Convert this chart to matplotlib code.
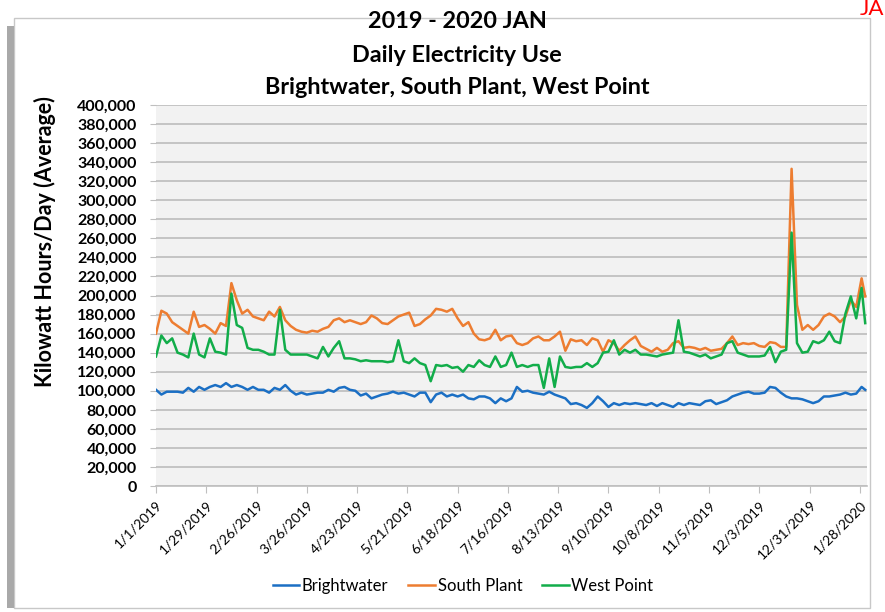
import matplotlib
matplotlib.use("Agg")
import matplotlib.pyplot as plt
from matplotlib.patches import Rectangle
import numpy as np
import pandas as pd

# sample days (offset from 1/1/2019), roughly every 3 days
sample_days = list(range(0, 394, 3)) + [395]

# kWh/day, in thousands
brightwater = [
    101, 96, 99, 99, 99, 98, 103, 99, 104, 101,
    104, 106, 104, 108, 104, 106, 104, 101, 104, 101,
    101, 98, 103, 101, 106, 100, 96, 98, 96, 97,
    98, 98, 101, 99, 103, 104, 101, 100, 95, 97,
    92, 94, 96, 97, 99, 97, 98, 96, 94, 98,
    98, 88, 96, 98, 94, 96, 94, 96, 92, 91,
    94, 94, 92, 87, 92, 89, 92, 104, 99, 100,
    98, 97, 96, 99, 96, 94, 92, 86, 87, 85,
    82, 87, 94, 89, 83, 87, 85, 87, 86, 87,
    86, 85, 87, 84, 87, 85, 83, 87, 85, 87,
    86, 85, 89, 90, 86, 88, 90, 94, 96, 98,
    99, 97, 97, 98, 104, 103, 98, 94, 92, 92,
    91, 89, 87, 89, 94, 94, 95, 96, 98, 96,
    97, 104, 101]

south_plant = [
    160, 184, 181, 172, 168, 164, 160, 183, 167, 169,
    165, 160, 171, 168, 213, 195, 181, 185, 178, 176,
    174, 183, 178, 188, 174, 168, 164, 162, 161, 163,
    162, 165, 167, 174, 176, 172, 174, 172, 170, 172,
    179, 176, 171, 170, 174, 178, 180, 182, 168, 170,
    175, 179, 186, 185, 183, 186, 176, 168, 172, 160,
    154, 153, 155, 164, 153, 157, 158, 150, 148, 150,
    155, 157, 153, 153, 157, 162, 142, 154, 152, 153,
    148, 155, 153, 141, 153, 150, 142, 148, 153, 157,
    147, 144, 141, 145, 141, 143, 150, 152, 145, 146,
    145, 143, 145, 142, 143, 144, 150, 157, 148, 150,
    149, 150, 147, 146, 151, 150, 146, 146, 333, 190,
    164, 169, 164, 169, 178, 181, 178, 172, 178, 195,
    188, 218, 199]

west_point = [
    136, 158, 150, 155, 140, 138, 135, 160, 138, 135,
    155, 141, 140, 138, 202, 169, 166, 145, 143, 143,
    141, 138, 138, 185, 143, 138, 138, 138, 138, 136,
    134, 146, 136, 145, 152, 134, 134, 133, 131, 132,
    131, 131, 131, 130, 131, 153, 131, 129, 134, 129,
    127, 110, 127, 126, 127, 124, 125, 120, 127, 125,
    132, 127, 125, 136, 125, 127, 140, 125, 127, 125,
    127, 127, 103, 134, 104, 136, 125, 124, 125, 125,
    129, 125, 129, 140, 141, 153, 138, 143, 140, 143,
    138, 138, 137, 136, 138, 139, 140, 174, 141, 140,
    138, 136, 138, 134, 136, 138, 150, 152, 140, 138,
    136, 136, 136, 137, 146, 130, 141, 143, 266, 150,
    140, 141, 152, 150, 153, 162, 152, 150, 181, 199,
    176, 208, 171]

series_names = ["Brightwater", "South Plant", "West Point"]
series_colors = ["#1b6fc4", "#ed7d31", "#12ad4a"]

start = pd.Timestamp("2019-01-01")
dates = [start + pd.Timedelta(days=d) for d in sample_days]
tick_dates = [start + pd.Timedelta(days=28 * i) for i in range(15)]
tick_labels = [f"{t.month}/{t.day}/{t.year}" for t in tick_dates]

plt.rcParams['font.family'] = ['Lato', 'DejaVu Sans']

fig = plt.figure(figsize=(8.85, 6.12), dpi=100)
W, H = 885, 612

# outer chart frame with the left shadow (behind the axes)
fig.patches.append(Rectangle((14 / W, 1 - 608 / H), (870 - 14) / W, (608 - 18) / H,
                             transform=fig.transFigure, facecolor='white',
                             edgecolor='#c8c8c8', lw=1.0, zorder=-2))
fig.patches.append(Rectangle((7 / W, 1 - 608 / H), 7 / W, (608 - 26) / H,
                             transform=fig.transFigure, facecolor='#a9a9a9',
                             edgecolor='none', zorder=-2))

ax = fig.add_axes([156 / W, 1 - 486 / H, (867 - 156) / W, (486 - 105) / H])
ax.set_facecolor('#f2f2f2')

for vals, name, col in zip([brightwater, south_plant, west_point], series_names, series_colors):
    ax.plot(dates, np.array(vals) * 1000, color=col, lw=1.8, label=name, solid_joinstyle='round')

ax.set_ylim(0, 400000)
ax.set_yticks(np.arange(0, 400001, 20000))
ax.set_yticklabels([f"{v:,}" for v in range(0, 400001, 20000)], fontweight='bold', fontsize=11.5)
ax.grid(axis='y', color='#c4c4c4', lw=1.4)
ax.set_axisbelow(True)

ax.set_xlim(start, start + pd.Timedelta(days=396))
ax.set_xticks(tick_dates)
ax.set_xticklabels(tick_labels, rotation=45, ha='right', va='top', rotation_mode='anchor', fontsize=10)

for s in ['top', 'right', 'left']:
    ax.spines[s].set_visible(False)
ax.spines['bottom'].set_color('#bfbfbf')
ax.spines['bottom'].set_linewidth(1.2)
ax.tick_params(axis='y', length=4, color='#bfbfbf', pad=10)
ax.tick_params(axis='x', length=5, color='#bfbfbf', pad=4)

fig.text(45 / W, 1 - 242 / H, 'Kilowatt Hours/Day (Average)', rotation=90, ha='center', va='center',
         fontsize=15.5, fontweight='bold')

fig.text(457 / W, 1 - 22 / H, '2019 - 2020 JAN', ha='center', va='center', fontsize=16.8, fontweight='bold')
fig.text(457 / W, 1 - 55 / H, 'Daily Electricity Use', ha='center', va='center', fontsize=16.8, fontweight='bold')
fig.text(457 / W, 1 - 88 / H, 'Brightwater, South Plant, West Point', ha='center', va='center', fontsize=16.8, fontweight='bold')

fig.text(884 / W, 1 - 9 / H, 'JA', ha='right', va='center', fontsize=16, color='red')

fig.legend(loc='center', bbox_to_anchor=(463 / W, 1 - 586 / H), ncol=3, frameon=False,
           fontsize=12, handlelength=1.6, handletextpad=0.15, columnspacing=1.2)

fig.savefig('out.png', dpi=100)
